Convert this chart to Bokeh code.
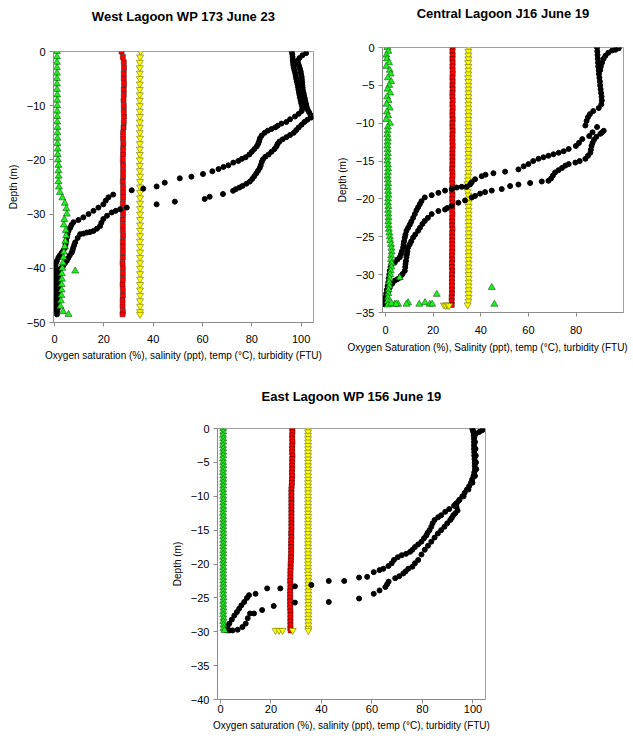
from bokeh.plotting import figure
from bokeh.models import Range1d, FixedTicker, Spacer, Title
from bokeh.layouts import row, column
from bokeh.embed import file_html
from bokeh.resources import INLINE

FONT = "Liberation Sans"

# ---------------- West Lagoon WP 173 June 23 ----------------
west_depth = [0, -1, -2, -3, -4, -5, -6, -7, -8, -9, -10, -11, -12, -13, -14, -15, -16, -17, -18, -19,
              -20, -21, -22, -23, -24, -25, -26, -27, -28, -29, -30, -31, -32, -33, -34, -35, -36, -37, -38, -39,
              -40, -41, -42, -43, -44, -45, -46, -47, -48, -48.5]
west_turb = [1.0, 1.0, 1.0, 1.0, 1.0, 1.0, 1.0, 1.0, 1.1, 1.1, 1.1, 1.1, 1.1, 1.1, 1.2, 1.2, 1.2, 1.2, 1.3, 1.3,
             1.4, 1.6, 1.6, 1.7, 1.6, 1.8, 2.2, 3.2, 4.2, 4.8, 5.0, 4.0, 3.8, 4.6, 4.7, 4.4, 4.2, 3.8, 3.6, 3.4,
             3.2, 3.0, 3.0, 2.9, 2.9, 2.8, 2.6, 2.4, 3.5, 5.7]
west_turb_extra_v = [8.4]
west_turb_extra_d = [-40.5]
west_temp = [27.2, 27.7, 28.1, 28.2, 28.1, 28.1, 28.2, 28.1, 28.1, 28.0, 28.1, 28.1, 28.2, 28.1, 28.0,
             27.8, 27.8, 27.9, 27.8, 27.8, 27.7, 27.8, 27.8, 27.8, 27.7, 27.8, 27.8, 27.8, 27.7, 27.7,
             27.8, 27.7, 27.7, 27.7, 27.8, 27.7, 27.7, 27.7, 27.7, 27.6, 27.7, 27.7, 27.7, 27.6, 27.7,
             27.7, 27.6, 27.6, 27.7, 27.6]
west_sal = [34.9, 34.7, 34.6, 34.6, 34.6, 34.6, 34.6, 34.6, 34.6, 34.6, 34.6, 34.6, 34.6, 34.6, 34.6,
            34.6, 34.7, 34.6, 34.6, 34.6, 34.6, 34.6, 34.6, 34.7, 34.7, 34.7, 34.7, 34.7, 34.7, 34.7,
            34.7, 34.7, 34.7, 34.7, 34.7, 34.7, 34.7, 34.7, 34.7, 34.7, 34.7, 34.7, 34.7, 34.7, 34.7,
            34.7, 34.7, 34.7, 34.7, 34.7]
west_down_d = [0, -0.5, -1, -1.5, -2, -2.5, -3, -3.5, -4, -4.5, -5, -5.5, -6, -6.5, -7, -7.5, -8, -8.5, -9, -9.5,
               -10, -10.5, -11, -11.5, -12, -12.5, -13, -13.3, -13.7, -14, -14.3, -14.6, -15, -15.5, -16, -16.5,
               -17, -17.5, -18, -18.5, -19, -19.5, -19.8, -20.2, -20.5, -21, -21.3, -21.7, -22.1, -22.6, -23.1,
               -23.4, -24.2, -24.9, -25.3, -25.6, -26.4, -26.9, -27.5, -28.2, -28.8, -29.4, -30.0, -30.6, -31.1,
               -31.5, -32.0, -32.5, -33.1, -33.7, -34.3, -35.0, -35.6, -36.2, -36.7, -37.1, -37.6, -38.0, -38.6,
               -39.0, -39.5, -40.0, -40.5, -41.0, -41.5, -42.0, -42.5, -43.0, -43.5, -44.0, -44.5, -45.0, -45.5,
               -46.0, -46.5, -47.0, -47.5, -48.0, -48.5]
west_down_v = [96.2, 96.4, 96.5, 96.6, 96.7, 96.8, 97.0, 97.3, 97.6, 97.8, 98.0, 98.2, 98.5, 98.7, 98.9, 99.1,
               99.3, 99.5, 99.8, 100.0, 100.3, 100.5, 100.2, 99.0, 97.5, 95.5, 94.0, 92.0, 90.5, 89.5, 88.0, 86.5,
               85.2, 84.0, 83.3, 83.0, 82.6, 82.0, 81.0, 80.0, 79.0, 77.5, 76.0, 74.5, 72.5, 70.5, 68.5, 66.5,
               64.0, 60.2, 55.5, 50.8, 44.7, 41.4, 36.0, 31.3, 23.8, 21.9, 20.8, 19.8, 17.8, 15.8, 13.8, 11.7,
               9.7, 7.7, 6.9, 6.4, 5.7, 5.3, 5.0, 4.7, 4.5, 4.3, 3.6, 3.0, 2.2, 1.6, 1.0, 0.6, 0.4, 0.4, 0.5,
               0.7, 0.9, 0.9, 0.8, 0.7, 0.8, 1.0, 0.9, 0.8, 0.7, 0.8, 0.9, 0.8, 0.7, 0.7, 1.0]
west_up_d = [-0.3, -0.7, -1.2, -1.7, -2.2, -2.7, -3.2, -3.7, -4.2, -4.7, -5.2, -5.7, -6.2, -6.7, -7.2, -7.7,
             -8.2, -8.7, -9.2, -9.7, -10.2, -10.7, -11.2, -11.7, -12.2, -12.6, -13.0, -13.5, -14.0, -14.5,
             -15.0, -15.4, -15.8, -16.2, -16.6, -17.0, -17.5, -18.0, -18.5, -19.0, -19.4, -19.9, -20.4, -21.0,
             -21.5, -22.0, -22.5, -23.0, -23.5, -24.0, -24.4, -24.8, -25.1, -25.4, -25.7, -26.3, -26.8, -27.2,
             -27.7, -28.2, -28.8, -29.1, -29.4, -29.7, -30.3, -30.9, -31.6, -32.2, -32.7, -33.1, -33.3, -33.4,
             -33.6, -33.7, -34.4, -35.2, -35.7, -36.2, -36.7, -37.1, -37.6, -38.1, -38.6, -39.0, -39.5, -40.0,
             -40.5, -41.0, -41.5, -42.0, -42.5, -43.0, -43.5, -44.0, -44.5, -45.0, -45.5, -46.0, -46.5, -47.0,
             -47.5, -48.0]
west_up_v = [102.0, 100.5, 99.3, 98.6, 98.8, 99.2, 99.5, 99.8, 100.0, 100.2, 100.3, 100.4, 100.5, 100.6, 100.7,
             101.0, 101.2, 101.5, 101.7, 102.0, 102.2, 102.6, 103.2, 103.8, 104.0, 102.5, 101.3, 100.2, 99.0,
             98.0, 97.0, 95.5, 94.0, 92.5, 91.2, 90.5, 90.0, 89.2, 88.0, 86.8, 85.5, 84.5, 84.0, 83.6, 83.2,
             82.5, 81.8, 81.0, 80.2, 79.2, 77.8, 76.2, 75.0, 73.5, 72.4, 68.3, 62.9, 60.9, 48.8, 41.4, 29.3,
             26.6, 24.8, 23.2, 21.3, 19.8, 19.0, 18.5, 17.2, 15.8, 14.4, 13.1, 11.7, 10.4, 9.4, 8.4, 8.0, 7.6,
             7.3, 7.0, 6.2, 5.6, 5.0, 4.3, 3.6, 2.6, 2.1, 1.8, 1.6, 1.6, 1.7, 1.8, 1.7, 1.6, 1.5, 1.6, 1.7,
             1.6, 1.5, 1.4, 1.3, 1.0]

# ---------------- Central Lagoon J16 June 19 ----------------
central_depth = [0, -0.5, -1, -1.5, -2, -2.5, -3, -3.5, -4, -4.5, -5, -5.5, -6, -6.5, -7, -7.5, -8, -8.5, -9,
                 -9.5, -10, -10.5, -11, -11.5, -12, -12.5, -13, -13.5, -14, -14.5, -15, -15.5, -16, -16.5, -17,
                 -17.5, -18, -18.5, -19, -19.5, -20, -20.5, -21, -21.5, -22, -22.5, -23, -23.5, -24, -24.5, -25,
                 -25.5, -26, -26.5, -27, -27.5, -28, -28.5, -29, -29.5, -30, -30.5, -31, -31.5, -32, -32.5, -33,
                 -33.5, -34]
central_turb = [0.8, 1.2, 0.4, 0.6, 1.5, 0.3, 1.8, 2.2, 1.0, 2.4, 1.6, 0.9, 2.0, 0.7, 1.3, 0.5, 1.8, 0.6, 1.1,
                0.4, 1.9, 1.0, 0.9, 0.8, 1.0, 0.9, 0.8, 0.9, 1.0, 0.9, 0.8, 1.0, 1.1, 1.0, 0.9, 1.0, 1.1, 1.0,
                1.1, 1.2, 1.1, 1.0, 1.2, 1.1, 1.2, 1.3, 1.2, 1.3, 1.4, 1.6, 1.8, 2.0, 2.3, 2.5, 2.6, 2.4, 2.3,
                2.6, 2.5, 2.2, 2.0, 1.8, 1.5, 1.6, 1.3, 1.2, 1.0, 0.9, 1.0]
central_turb_extra_v = [6.0, 21.5, 44.6, 45.7, 16.6, 14.2, 18.6, 19.6, 9.5, 8.8, 5.3, 3.9, 2.5, 4.5]
central_turb_extra_d = [-30.4, -32.6, -31.7, -33.9, -33.7, -33.9, -33.9, -33.9, -33.7, -33.9, -33.9, -33.9,
                        -33.8, -33.9]
central_temp = [28.2, 28.1, 28.2, 28.1, 28.2, 28.1, 28.2, 28.2, 28.1, 28.2, 28.1, 28.2, 28.1, 28.1, 28.2,
                28.1, 28.2, 28.1, 28.1, 28.2, 28.1, 28.1, 28.2, 28.1, 28.1, 28.1, 28.2, 28.1, 28.1, 28.1,
                28.1, 28.1, 28.0, 28.1, 28.1, 28.0, 28.1, 28.1, 28.0, 28.1, 28.0, 28.1, 28.0, 28.0, 28.1,
                28.0, 28.0, 28.0, 28.1, 28.0, 28.0, 28.0, 28.0, 28.0, 28.0, 27.9, 28.0, 27.9, 27.9, 28.0,
                27.9, 27.9, 27.9, 27.9, 27.9, 27.9, 27.8, 27.8, 27.8]
central_sal = [34.9, 34.8, 34.8, 34.8, 34.7, 34.8, 34.8, 34.8, 34.7, 34.8, 34.8, 34.8, 34.8, 34.8, 34.8,
               34.8, 34.8, 34.8, 34.8, 34.8, 34.8, 34.8, 34.8, 34.8, 34.8, 34.8, 34.8, 34.8, 34.8, 34.8,
               34.8, 34.8, 34.8, 34.8, 34.7, 34.6, 34.4, 34.3, 34.5, 34.8, 34.9, 34.9, 34.9, 34.9, 34.9,
               34.9, 34.9, 34.9, 34.9, 34.9, 34.9, 34.9, 34.9, 34.9, 34.9, 34.9, 34.9, 34.9, 34.9, 34.9,
               34.9, 34.9, 34.9, 34.9, 34.9, 34.9, 34.9, 34.8, 34.5]
central_sal_extra_v = [24.5, 25.3, 26.0, 26.7]
central_sal_extra_d = [-34.0, -34.1, -34.0, -34.1]
central_a_d = [0, -0.5, -1, -1.5, -2, -2.5, -3, -3.5, -4, -4.5, -5, -5.5, -6, -6.5, -7, -7.5, -8, -8.4, -8.8,
               -9.2, -9.7, -10.3, -10.5, -11.2, -11.7, -12.1, -12.6, -13.0, -13.4, -13.7, -13.9, -14.1, -14.3,
               -14.5, -14.7, -15.0, -15.4, -15.7, -16.1, -16.4, -16.6, -16.8, -17.0, -17.4, -17.8, -18.1, -18.4,
               -18.4, -18.5, -18.7, -18.9, -19.2, -19.5, -19.8, -20.3, -20.7, -21.1, -21.5, -22.0, -22.5, -23.0,
               -23.4, -23.8, -24.2, -24.7, -25.1, -25.6, -26.0, -26.4, -26.9, -27.3, -27.7, -28.0, -28.4, -28.6,
               -29.0, -29.5, -30.0, -30.5, -31.0, -31.5, -32.0, -32.5, -33.0, -33.5, -33.9]
central_a_v = [88.8, 88.9, 89.0, 89.1, 89.2, 89.3, 89.5, 89.6, 89.8, 90.0, 90.1, 90.3, 90.5, 90.7, 90.8, 90.6,
               89.5, 87.2, 85.8, 85.0, 84.4, 83.9, 88.8, 86.9, 85.5, 82.6, 81.2, 79.9, 76.9, 74.8, 72.7, 70.5,
               68.4, 66.3, 64.2, 62.0, 60.0, 58.0, 55.8, 50.2, 45.3, 42.0, 40.4, 37.6, 36.2, 35.5, 34.0, 32.0,
               29.9, 27.8, 25.0, 22.2, 19.4, 16.5, 15.1, 14.4, 13.7, 13.0, 12.3, 11.6, 10.8, 10.2, 9.5, 8.8,
               8.4, 8.1, 7.8, 7.6, 7.4, 6.9, 6.5, 6.0, 5.0, 3.9, 2.5, 2.1, 1.8, 1.6, 1.4, 1.2, 0.9, 0.6, 0.3,
               0.0, -0.2, -0.3]
central_b_d = [-0.1, -0.3, -0.4, -0.7, -1.1, -1.5, -2.0, -2.5, -3.0, -11.0, -11.2, -11.4, -11.8, -12.2, -12.6,
               -13.0, -13.5, -13.9, -14.3, -14.7, -15.0, -15.2, -15.4, -15.6, -15.9, -16.2, -16.5, -16.9, -17.3,
               -17.6, -17.7, -17.9, -18.1, -18.3, -18.7, -18.9, -19.1, -19.3, -19.6, -19.8, -20.2, -20.5, -20.9,
               -21.2, -21.4, -21.6, -22.0, -22.5, -22.9, -23.3, -23.8, -24.2, -24.7, -25.1, -25.6, -26.0, -26.4,
               -26.9, -27.3, -27.7, -28.2, -28.6, -29.0, -29.5, -29.9, -30.2, -30.4, -30.6, -30.8, -31.2, -31.7,
               -32.2, -32.6, -33.0, -33.5, -33.9]
central_b_v = [97.9, 96.5, 95.1, 93.5, 92.3, 91.5, 90.9, 90.4, 90.1, 91.6, 90.9, 90.2, 88.5, 87.5, 86.9, 86.5,
               86.2, 86.0, 85.0, 83.9, 81.5, 79.7, 76.9, 75.5, 74.1, 72.6, 71.2, 70.3, 69.5, 68.4, 65.6, 60.7,
               55.8, 52.3, 48.8, 44.6, 41.8, 39.7, 37.6, 36.2, 33.4, 30.6, 27.8, 25.9, 25.0, 22.2, 19.4, 17.8,
               16.5, 15.5, 14.5, 13.7, 12.5, 11.6, 10.8, 10.2, 9.5, 9.2, 9.0, 8.8, 8.6, 8.4, 8.3, 8.1, 7.2, 6.4,
               6.0, 5.0, 3.9, 2.8, 1.8, 1.2, 0.8, 0.4, 0.0, -0.3]

# ---------------- East Lagoon WP 156 June 19 ----------------
east_depth = [0, -0.5, -1, -1.5, -2, -2.5, -3, -3.5, -4, -4.5, -5, -5.5, -6, -6.5, -7, -7.5, -8, -8.5, -9,
              -9.5, -10, -10.5, -11, -11.5, -12, -12.5, -13, -13.5, -14, -14.5, -15, -15.5, -16, -16.5, -17,
              -17.5, -18, -18.5, -19, -19.5, -20, -20.5, -21, -21.5, -22, -22.5, -23, -23.5, -24, -24.5, -25,
              -25.5, -26, -26.5, -27, -27.5, -28, -28.5, -29, -29.5, -29.8]
east_turb = [1.1, 1.1, 1.0, 1.1, 1.1, 1.0, 1.1, 1.1, 1.1, 1.0, 1.1, 1.1, 1.1, 1.0, 1.1, 1.1, 1.1, 1.1, 1.0, 1.1,
             1.1, 1.1, 1.1, 1.1, 1.1, 1.0, 1.1, 1.1, 1.1, 1.1, 1.1, 1.1, 1.1, 1.1, 1.1, 1.1, 1.1, 1.1, 1.1, 1.1,
             1.1, 1.1, 1.1, 1.1, 1.1, 1.1, 1.1, 1.1, 1.1, 1.1, 1.2, 1.1, 1.1, 1.2, 1.1, 1.1, 1.2, 1.1, 1.2, 1.2,
             1.6]
east_temp = [28.4, 28.5, 28.4, 28.4, 28.5, 28.4, 28.4, 28.4, 28.5, 28.4, 28.4, 28.4, 28.4, 28.3, 28.4, 28.3,
             28.3, 28.2, 28.1, 28.1, 28.1, 28.1, 28.1, 28.1, 28.1, 28.1, 28.1, 28.1, 28.1, 28.1, 28.1, 28.0,
             28.1, 28.0, 28.0, 28.0, 28.0, 28.0, 27.9, 27.9, 27.8, 27.8, 27.7, 27.7, 27.7, 27.6, 27.7, 27.7,
             27.6, 27.6, 27.6, 27.6, 27.6, 27.6, 27.7, 27.7, 27.7, 27.7, 27.7, 27.7, 27.8]
east_sal = [34.8, 34.7, 34.7, 34.7, 34.7, 34.7, 34.7, 34.7, 34.7, 34.7, 34.7, 34.7, 34.7, 34.7, 34.7, 34.7,
            34.7, 34.7, 34.7, 34.7, 34.7, 34.7, 34.7, 34.7, 34.7, 34.7, 34.7, 34.7, 34.7, 34.7, 34.7, 34.7,
            34.7, 34.7, 34.7, 34.7, 34.7, 34.7, 34.7, 34.7, 34.7, 34.7, 34.7, 34.7, 34.8, 34.8, 34.8, 34.8,
            34.8, 34.8, 34.8, 34.8, 34.8, 34.8, 34.8, 34.8, 34.8, 34.8, 34.8, 34.8, 34.8]
east_sal_extra_v = [21.8, 23.2, 24.6, 28.6]
east_sal_extra_d = [-29.8, -29.8, -29.8, -29.8]
east_a_d = [0, -0.3, -0.6, -1.0, -1.5, -2.0, -2.5, -3.0, -3.5, -4.0, -4.5, -5.0, -5.5, -6.0, -6.5, -7.0, -7.5,
            -8.0, -8.5, -9.0, -9.5, -10.0, -10.5, -11.0, -11.4, -11.9, -12.3, -12.8, -13.1, -13.5, -14.0, -14.5,
            -15.0, -15.4, -15.8, -16.2, -16.7, -17.1, -17.5, -17.9, -18.2, -18.5, -18.7, -19.0, -19.4, -19.9,
            -20.3, -20.7, -20.9, -21.2, -21.9, -22.0, -22.5, -22.5, -23.1, -23.3, -23.6, -23.6, -24.4, -24.6,
            -25.0, -25.6, -26.1, -26.6, -27.1, -27.6, -28.2, -28.8, -29.2, -29.5, -29.7]
east_a_v = [99.7, 100.0, 100.2, 100.3, 100.4, 100.4, 100.4, 100.4, 100.5, 100.5, 100.6, 100.7, 100.7, 100.8,
            100.5, 100.2, 99.7, 99.2, 98.5, 97.6, 96.7, 95.8, 94.7, 93.6, 92.5, 90.6, 89.0, 87.4, 86.2, 84.8,
            84.0, 83.5, 82.8, 82.0, 81.5, 80.6, 79.6, 78.3, 77.0, 76.0, 75.1, 73.5, 71.8, 70.2, 68.7, 67.8,
            66.5, 64.5, 63.0, 60.7, 58.1, 54.9, 49.0, 42.9, 36.0, 29.5, 23.7, 18.5, 13.9, 11.3, 10.5, 9.4,
            8.3, 7.4, 6.5, 5.5, 4.5, 3.5, 2.8, 2.2, 1.8]
east_b_d = [-0.25, -0.5, -0.75, -1.2, -2.0, -3.0, -4.0, -5.0, -6.0, -7.0, -8.0, -9.0, -10.0, -10.6, -11.1,
            -11.6, -12.1, -12.5, -12.8, -13.2, -13.5, -14.0, -14.5, -15.0, -15.5, -16.1, -16.7, -17.3, -17.9,
            -18.6, -19.4, -19.9, -20.4, -20.7, -21.1, -21.4, -21.8, -22.1, -22.6, -23.0, -23.4, -23.9, -24.4,
            -25.1, -25.6, -25.7, -26.2, -26.8, -27.3, -27.3, -28.0, -28.8, -29.3, -29.7, -29.8, -29.8, -29.8]
east_b_v = [103.7, 102.5, 101.2, 100.6, 100.8, 101.0, 101.1, 101.2, 101.3, 100.8, 99.8, 98.2, 96.3, 94.5,
            93.2, 93.5, 93.9, 93.0, 92.2, 91.6, 91.0, 89.8, 88.7, 87.4, 86.1, 84.8, 83.5, 82.2, 80.9, 79.6,
            78.3, 77.0, 76.0, 74.4, 73.3, 72.4, 70.8, 69.2, 66.6, 66.0, 65.3, 63.0, 60.7, 54.9, 42.9, 29.5,
            21.1, 16.5, 13.3, 11.7, 10.8, 10.0, 8.7, 6.8, 4.8, 3.5, 2.6]

x_ticks = [0, 20, 40, 60, 80, 100]
title_west = "West Lagoon WP 173 June 23"
title_central = "Central Lagoon J16 June 19"
title_east = "East Lagoon WP 156 June 19"
label_west = "Oxygen saturation (%), salinity (ppt), temp (\u00b0C), turbidity (FTU)"
label_central = "Oxygen Saturation (%), Salinity (ppt), temp (\u00b0C), turbidity (FTU)"
label_east = "Oxygen saturation (%), salinity (ppt), temp (\u00b0C), turbidity (FTU)"
depth_label = "Depth (m)"

AXIS_GREY = "#8a8a8a"


def make_fig(w, h, bl, br, bt, bb, xr, yr, yticks, xl_stand):
    p = figure(width=w, height=h, x_range=Range1d(*xr), y_range=Range1d(*yr), title=None,
               output_backend="svg", toolbar_location=None,
               min_border_left=bl, min_border_right=br, min_border_top=bt, min_border_bottom=bb)
    try:
        p.frame_align = False
    except Exception:
        pass
    p.xgrid.visible = False
    p.ygrid.visible = False
    p.outline_line_color = "#a0a0a0"
    p.outline_line_width = 1
    p.background_fill_color = "white"
    p.border_fill_color = "white"
    for ax in (p.xaxis[0], p.yaxis[0]):
        ax.axis_line_color = AXIS_GREY
        ax.major_tick_line_color = AXIS_GREY
        ax.minor_tick_line_color = None
        ax.major_tick_out = 4
        ax.major_tick_in = 0
        ax.major_label_text_font = FONT
        ax.major_label_text_font_size = "11px"
        ax.major_label_text_color = "#000000"
        ax.axis_label_text_font = FONT
        ax.axis_label_text_font_size = "10px"
        ax.axis_label_text_font_style = "normal"
        ax.axis_label_text_color = "#000000"
    p.xaxis.ticker = FixedTicker(ticks=x_ticks)
    p.yaxis.ticker = FixedTicker(ticks=yticks)
    p.yaxis.axis_label = depth_label
    p.xaxis.major_label_standoff = xl_stand
    p.yaxis.major_label_standoff = 4
    p.yaxis.axis_label_standoff = 5
    return p


def add_title(p, text, gap_standoff):
    # invisible spacer panel next to the frame, then the bold title above it
    p.add_layout(Title(text=" ", text_font=FONT, text_font_size="10px", standoff=gap_standoff), "above")
    p.add_layout(Title(text=text, text_font=FONT, text_font_size="13px", text_font_style="bold",
                       text_color="#000000", align="center", vertical_align="top", standoff=0), "above")


def draw(p, depth, turb, temp, sal, o2_sets, turb_extra=None, sal_extra=None):
    p.scatter(x=temp, y=depth, marker="square", size=5, fill_color="#ff0000",
              line_color="#3a0000", line_width=0.5)
    p.scatter(x=sal, y=depth, marker="inverted_triangle", size=7, fill_color="#ffff00",
              line_color="#6b6b00", line_width=0.6)
    if sal_extra is not None:
        p.scatter(x=sal_extra[0], y=sal_extra[1], marker="inverted_triangle", size=7,
                  fill_color="#ffff00", line_color="#6b6b00", line_width=0.6)
    for vals, ds in o2_sets:
        p.scatter(x=vals, y=ds, marker="circle", size=5, fill_color="#000000", line_color="#000000")
    p.scatter(x=turb, y=depth, marker="triangle", size=7, fill_color="#22ee22",
              line_color="#0a5a0a", line_width=0.6)
    if turb_extra is not None:
        p.scatter(x=turb_extra[0], y=turb_extra[1], marker="triangle", size=7, fill_color="#22ee22",
                  line_color="#0a5a0a", line_width=0.6)


# West: frame 53..313 x 51..322
p1 = make_fig(333, 385, 53, 20, 51, 63, (-0.4, 105.0), (-50, 0), [0, -10, -20, -30, -40, -50], 8)
draw(p1, west_depth, west_turb, west_temp, west_sal,
     [(west_down_v, west_down_d), (west_up_v, west_up_d)],
     turb_extra=(west_turb_extra_v, west_turb_extra_d))
add_title(p1, title_west, 12.6)
p1.xaxis.axis_label = label_west
p1.xaxis.axis_label_standoff = 4

# Central: frame 381..623 x 47..312
p2 = make_fig(299, 385, 48, 9, 47, 73, (-1.25, 99.9), (-35, 0), [0, -5, -10, -15, -20, -25, -30, -35], 9)
draw(p2, central_depth, central_turb, central_temp, central_sal,
     [(central_a_v, central_a_d), (central_b_v, central_b_d)],
     turb_extra=(central_turb_extra_v, central_turb_extra_d),
     sal_extra=(central_sal_extra_v, central_sal_extra_d))
add_title(p2, title_central, 12.1)
p2.add_layout(Title(text=label_central, text_font=FONT, text_font_size="10px", text_font_style="normal",
                    text_color="#000000", align="left", offset=-35, vertical_align="top", standoff=10),
              "below")

# East: frame 213..485 x 428..699
p3 = make_fig(337, 354, 45, 20, 43, 40, (-1.17, 104.96), (-40, 0),
              [0, -5, -10, -15, -20, -25, -30, -35, -40], 1)
draw(p3, east_depth, east_turb, east_temp, east_sal,
     [(east_a_v, east_a_d), (east_b_v, east_b_d)],
     sal_extra=(east_sal_extra_v, east_sal_extra_d))
add_title(p3, title_east, 9.8)
p3.xaxis.axis_label = label_east
p3.xaxis.axis_label_standoff = 4

layout = column(row(p1, p2, spacing=0), row(Spacer(width=168, height=354), p3, spacing=0), spacing=0)

open("out.html", "w").write(file_html(layout, INLINE))
